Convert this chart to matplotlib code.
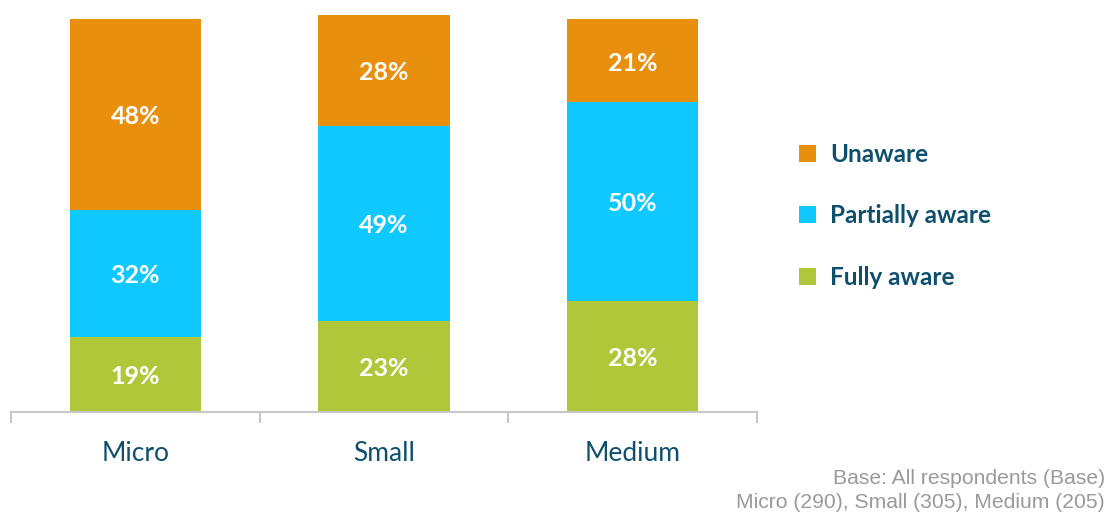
import matplotlib
matplotlib.use("Agg")
import matplotlib.pyplot as plt
import numpy as np

categories = ["Micro", "Small", "Medium"]
series_names = ["Fully aware", "Partially aware", "Unaware"]
fully_aware = [19, 23, 28]
partially_aware = [32, 49, 50]
unaware = [48, 28, 21]
colors = ["#B1C73A", "#0FC8FE", "#E8900D"]
text_color = "#0E4F6E"
footnote = ["Base: All respondents (Base)", "Micro (290), Small (305), Medium (205)"]

fig = plt.figure(figsize=(11.12, 5.16), dpi=100)
ax = fig.add_axes([11/1112, 1 - 412/516, (755 - 9)/1112, 397/516])

x = np.arange(len(categories))
bottom = np.zeros(len(categories))
handles = []
for vals, name, col in zip([fully_aware, partially_aware, unaware], series_names, colors):
    bars = ax.bar(x, vals, width=0.527, bottom=bottom, color=col, label=name, zorder=2)
    handles.append(bars)
    for xi, b, v in zip(x, bottom, vals):
        ax.text(xi, b + v / 2 - 0.6, f"{v}%", ha="center", va="center", color="white",
                fontsize=18, fontweight="bold", family=["Lato", "DejaVu Sans"])
    bottom = bottom + np.array(vals)

ax.set_xlim(-0.5, 2.5)
ax.set_ylim(0, 100)
for s in ["top", "left", "right"]:
    ax.spines[s].set_visible(False)
ax.spines["bottom"].set_color("#C8C8C8")
ax.spines["bottom"].set_linewidth(1.5)
ax.set_yticks([])
ax.set_xticks(x)
ax.set_xticklabels(categories, fontsize=19, color=text_color, family=["Lato", "DejaVu Sans"])
ax.tick_params(axis="x", which="major", length=0, pad=21)
ax.set_xticks([-0.5, 0.5, 1.5, 2.5], minor=True)
ax.tick_params(axis="x", which="minor", length=8, width=1.5, color="#C8C8C8", direction="out")

leg = fig.legend(handles=handles[::-1], labels=series_names[::-1],
                 loc="upper left", bbox_to_anchor=(777/1112, 1 - 121/516),
                 frameon=False, handlelength=0.7, handleheight=0.7,
                 labelspacing=1.58, handletextpad=0.6,
                 prop={"family": ["Lato", "DejaVu Sans"], "weight": "bold", "size": 17.5})
for t in leg.get_texts():
    t.set_color(text_color)

fig.text(1105/1112, 1 - 479/516, footnote[0], ha="right", va="center", color="#9A9A9A",
         fontsize=15.2, family=["Liberation Sans", "DejaVu Sans"])
fig.text(1105/1112, 1 - 503/516, footnote[1], ha="right", va="center", color="#9A9A9A",
         fontsize=15.2, family=["Liberation Sans", "DejaVu Sans"])

fig.savefig("out.png", dpi=100)
